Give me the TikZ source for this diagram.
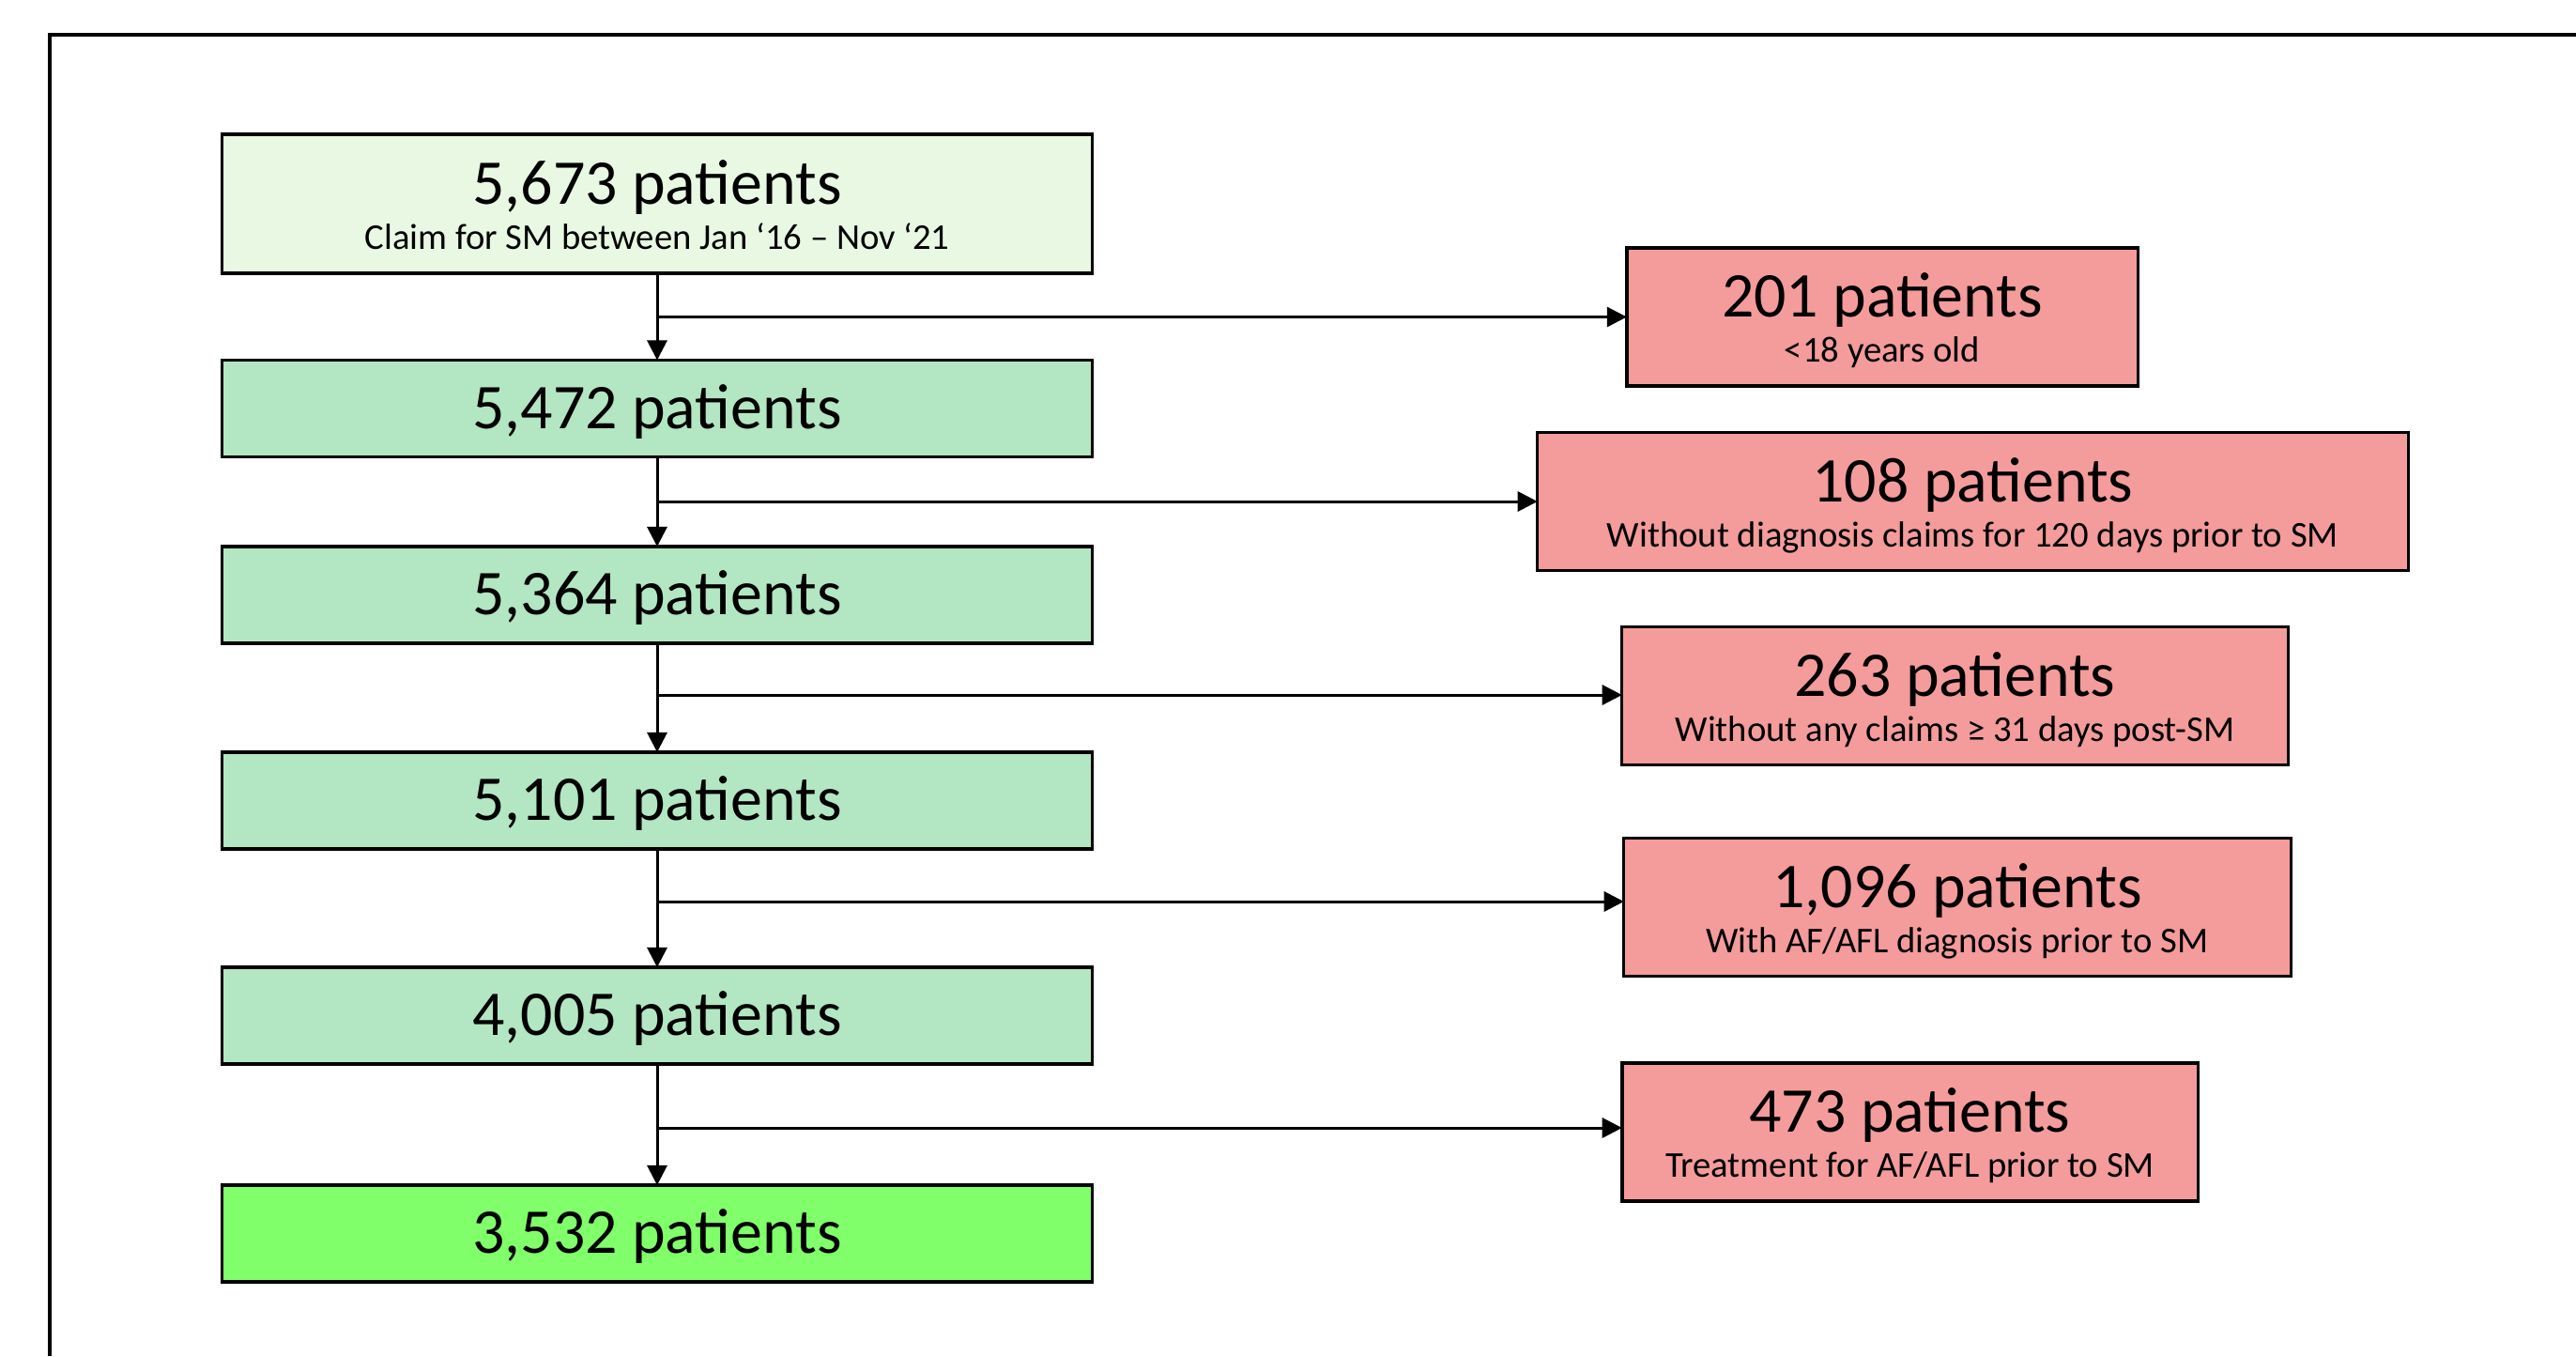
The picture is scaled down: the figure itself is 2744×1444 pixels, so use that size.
\documentclass[tikz,border=0pt]{standalone}
\usepackage{fontspec}
\setmainfont{Carlito}
\usetikzlibrary{arrows.meta}
\definecolor{startfill}{HTML}{E8F8E3}
\definecolor{midfill}{HTML}{B3E6C2}
\definecolor{endfill}{HTML}{80FF6A}
\definecolor{exfill}{HTML}{F39C9B}
\begin{document}
\begin{tikzpicture}[x=0.01cm,y=-0.01cm,
  flowbox/.style={draw=black, line width=0.95pt, inner sep=0pt, outer sep=0pt},
  keepbox/.style={flowbox, fill=midfill, minimum width=9.26cm, minimum height=1.03cm},
  exclbox/.style={flowbox, fill=exfill, minimum height=1.47cm},
  bigtxt/.style={anchor=base, font=\fontsize{19.3}{23}\selectfont, inner sep=0pt},
  smalltxt/.style={anchor=base, font=\fontsize{11}{13}\selectfont, inner sep=0pt},
  conn/.style={line width=0.85pt, -{Triangle[length=6pt,width=6pt]}}]
\useasboundingbox (0,0) rectangle (2744,1444);
\fill[white] (0,0) rectangle (2744,1444);
% outer frame (cut by page edges)
\draw[line width=0.95pt] (53,1444) -- (53,37) -- (2744,37);

% main column
\node[flowbox, fill=startfill, minimum width=9.26cm, minimum height=1.48cm] (b1) at (700,217) {};
\node[keepbox] (b2) at (700,435) {};
\node[keepbox] (b3) at (700,633.5) {};
\node[keepbox] (b4) at (700,852.5) {};
\node[keepbox] (b5) at (700,1081.5) {};
\node[keepbox, fill=endfill] (b6) at (700,1313.5) {};

% exclusion boxes
\node[exclbox, minimum width=5.44cm] (r1) at (2005,337.5) {};
\node[exclbox, minimum width=9.27cm] (r2) at (2101.5,534) {};
\node[exclbox, minimum width=7.09cm] (r3) at (2082.5,741) {};
\node[exclbox, minimum width=7.10cm] (r4) at (2085,966) {};
\node[exclbox, minimum width=6.13cm] (r5) at (2034.5,1205.5) {};

% arrow targets on the exclusion boxes
\coordinate (e1) at (r1.west);
\coordinate (e2) at (r2.west);
\coordinate (e3) at ([yshift=0.01cm]r3.west);
\coordinate (e4) at ([yshift=0.06cm]r4.west);
\coordinate (e5) at ([yshift=0.045cm]r5.west);

% texts
\node[bigtxt] (t1) at (b1.center) {5,673 patients};
\node[smalltxt] (s1) at ([yshift=-0.48cm]b1.center) {Claim for SM between Jan ‘16 – Nov ‘21};
\node[bigtxt] (t2) at ([yshift=-0.21cm]b2.center) {5,472 patients};
\node[bigtxt] (t3) at ([yshift=-0.21cm]b3.center) {5,364 patients};
\node[bigtxt] (t4) at ([yshift=-0.21cm]b4.center) {5,101 patients};
\node[bigtxt] (t5) at ([yshift=-0.21cm]b5.center) {4,005 patients};
\node[bigtxt] (t6) at ([yshift=-0.21cm]b6.center) {3,532 patients};

\node[bigtxt] (u1) at (r1.center) {201 patients};
\node[smalltxt] (v1) at ([yshift=-0.48cm]r1.center) {<18 years old};
\node[bigtxt] (u2) at (r2.center) {108 patients};
\node[smalltxt] (v2) at ([yshift=-0.48cm]r2.center) {Without diagnosis claims for 120 days prior to SM};
\node[bigtxt] (u3) at (r3.center) {263 patients};
\node[smalltxt] (v3) at ([yshift=-0.48cm]r3.center) {Without any claims ≥ 31 days post-SM};
\node[bigtxt] (u4) at (r4.center) {1,096 patients};
\node[smalltxt] (v4) at ([yshift=-0.48cm]r4.center) {With AF/AFL diagnosis prior to SM};
\node[bigtxt] (u5) at (r5.center) {473 patients};
\node[smalltxt] (v5) at ([yshift=-0.48cm]r5.center) {Treatment for AF/AFL prior to SM};

% connectors
\draw[conn] (b1.south) -- (b2.north);
\draw[conn] (b2.south) -- (b3.north);
\draw[conn] (b3.south) -- (b4.north);
\draw[conn] (b4.south) -- (b5.north);
\draw[conn] (b5.south) -- (b6.north);
\draw[conn] (b1.south |- e1) -- (e1);
\draw[conn] (b2.south |- e2) -- (e2);
\draw[conn] (b3.south |- e3) -- (e3);
\draw[conn] (b4.south |- e4) -- (e4);
\draw[conn] (b5.south |- e5) -- (e5);
\end{tikzpicture}
\end{document}
